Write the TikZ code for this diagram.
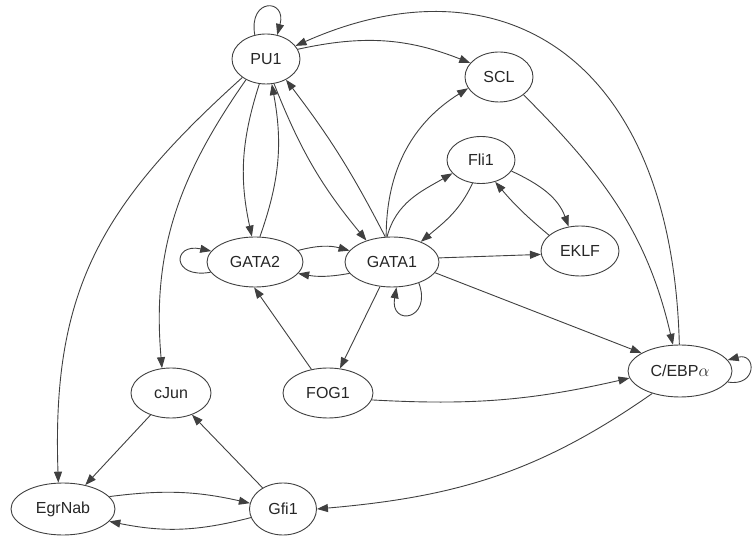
\documentclass[tikz,border=0pt]{standalone}
\usepackage{fontspec}
\setmainfont{Liberation Sans}
\usetikzlibrary{shapes.geometric,arrows.meta}
\definecolor{kante}{RGB}{64,64,64}
\begin{document}
\begin{tikzpicture}[x=1pt,y=1pt,
  gen/.style={ellipse,draw=kante,line width=0.9pt,inner sep=0pt,
    minimum height=50pt,text=black!85,font=\fontsize{16}{19}\selectfont},
  pfeil/.style={draw=kante,line width=0.9pt,-{Triangle[length=11pt,width=8pt]}}]
  \useasboundingbox (0,0) rectangle (754,535);
  % Knoten
  \node[gen,minimum width=68pt]  (pu1)    at (266,476) {PU1};
  \node[gen,minimum width=68pt]  (scl)    at (499,458) {SCL};
  \node[gen,minimum width=68pt,minimum height=47pt] (fli1) at (481,375) {Fli1};
  \node[gen,minimum width=78pt]  (eklf)   at (580,284) {EKLF};
  \node[gen,minimum width=96pt]  (gata2)  at (255,273) {GATA2};
  \node[gen,minimum width=94pt]  (gata1)  at (392,273) {GATA1};
  \node[gen,minimum width=80pt]  (cjun)   at (171,142) {cJun};
  \node[gen,minimum width=90pt]  (fog1)   at (328,142) {FOG1};
  \node[gen,minimum width=104pt,minimum height=52pt] (cebpa) at (680,164) {C/EBP$\alpha$};
  \node[gen,minimum width=104pt,minimum height=52pt] (egrnab) at (63,26) {EgrNab};
  \node[gen,minimum width=67pt,minimum height=52pt]  (gfi1)   at (283,26) {Gfi1};
  % Schleifen
  \draw[pfeil] (pu1.115) to[out=100,in=75,distance=38pt] (pu1.65);
  \draw[pfeil] (gata2.193) to[out=190,in=168,distance=40pt] (gata2.166);
  \draw[pfeil] (gata1.322) to[out=290,in=260,distance=40pt] (gata1.280);
  \draw[pfeil] (cebpa.-13) to[out=-10,in=15,distance=30pt] (cebpa.13);
  % PU1
  \draw[pfeil] (pu1.17) to[bend left=17] (scl.154);
  \draw[pfeil] (pu1.255) to[bend right=15] (gata2.97);
  \draw[pfeil] (gata2.79) to[bend right=15] (pu1.283);
  \draw[pfeil] (pu1.288) to[bend right=9] (gata1.140);
  \draw[pfeil] (gata1.105) to[bend right=5] (pu1.314);
  \draw[pfeil] (pu1.226) to[out=235,in=95] (cjun.110);
  \draw[pfeil] (pu1.218) to[out=222,in=92,looseness=1.1] (egrnab.100);
  \draw[pfeil] (cebpa) .. controls (672,480) and (500,580) .. (pu1);
  % GATA1 und GATA2
  \draw[pfeil] (gata2.15) to[bend left=15] (gata1.165);
  \draw[pfeil] (gata1.195) to[bend left=10] (gata2.345);
  \draw[pfeil] (gata1.103) to[out=90,in=212] (scl.200);
  \draw[pfeil] (gata1.101) to[out=75,in=210] (fli1.205);
  \draw[pfeil] (fli1.250) to[out=245,in=40] (gata1.35);
  \draw[pfeil] (gata1.5) -- (eklf.185);
  \draw[pfeil] (gata1) -- (fog1);
  \draw[pfeil] (fog1.125) -- (gata2.268);
  \draw[pfeil] (gata1.346) -- (cebpa.155);
  % Fli1 und EKLF
  \draw[pfeil] (fli1.340) to[out=-25,in=110] (eklf.115);
  \draw[pfeil] (eklf.153) to[bend left=5] (fli1.303);
  % C/EBPalpha
  \draw[pfeil] (scl.324) to[out=-45,in=103] (cebpa.105);
  \draw[pfeil] (fog1.351) to[bend right=8] (cebpa.188);
  \draw[pfeil] (cebpa.219) to[out=215,in=5] (gfi1.east);
  % cJun, EgrNab, Gfi1
  \draw[pfeil] (cjun) -- (egrnab);
  \draw[pfeil] (gfi1) -- (cjun);
  \draw[pfeil] (egrnab.15) to[bend left=10] (gfi1.170);
  \draw[pfeil] (gfi1.195) to[bend left=13] (egrnab.345);
\end{tikzpicture}
\end{document}
